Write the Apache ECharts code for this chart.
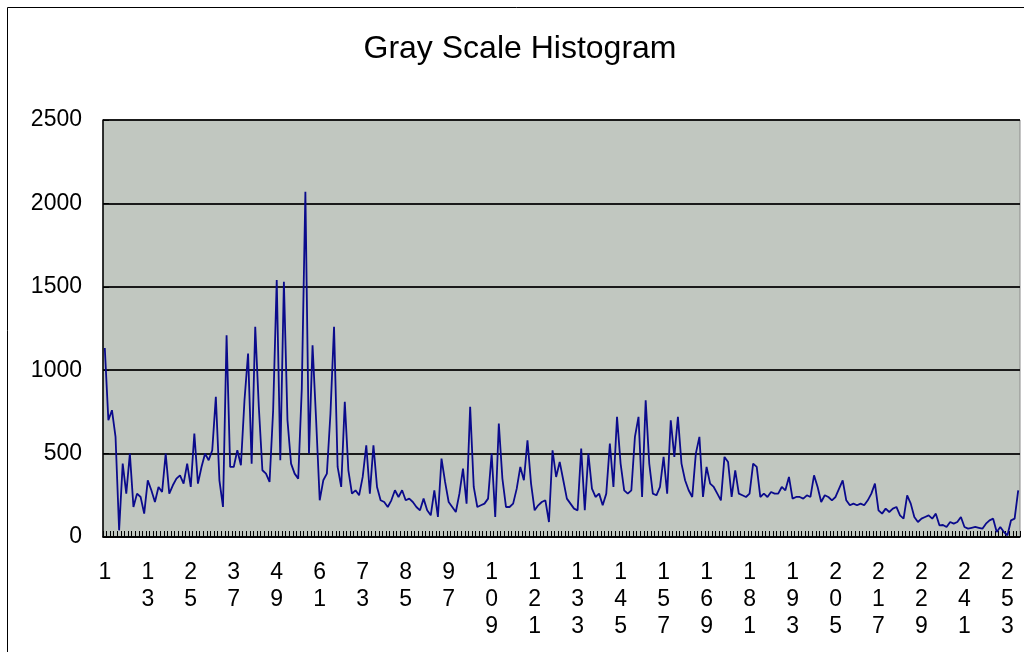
<!DOCTYPE html>
<html>
<head>
<meta charset="utf-8">
<title>Gray Scale Histogram</title>
<script src="https://cdn.jsdelivr.net/npm/echarts@6/dist/echarts.min.js"></script>
<style>
  html, body { margin: 0; padding: 0; background: #fff; }
  #chart { width: 1024px; height: 652px; }
</style>
</head>
<body>
<div id="chart"></div>
<script>
// == Data ====================================================================

// pixel counts per gray level (levels 1..256)
const counts = [
  1133, 700, 760, 600, 40, 440, 260, 500, 180, 260, 240, 140, 340, 280, 210, 300,
  270, 500, 260, 310, 350, 370, 320, 440, 300, 620, 320, 420, 500, 460, 520, 840,
  340, 180, 1210, 420, 420, 520, 430, 820, 1100, 440, 1260, 780, 400, 380, 330, 760,
  1540, 460, 1530, 700, 440, 380, 350, 890, 2070, 500, 1150, 700, 220, 340, 380, 740,
  1260, 420, 300, 810, 400, 260, 280, 250, 360, 550, 260, 550, 300, 220, 210, 180,
  220, 280, 240, 280, 220, 230, 210, 180, 160, 230, 160, 130, 280, 120, 470, 330,
  210, 180, 150, 260, 410, 200, 780, 300, 180, 190, 200, 230, 500, 120, 680, 350,
  180, 180, 200, 290, 420, 340, 580, 320, 160, 190, 210, 220, 90, 520, 360, 450,
  340, 230, 200, 170, 160, 530, 160, 500, 290, 240, 260, 190, 260, 560, 300, 720,
  440, 280, 260, 280, 600, 720, 240, 820, 440, 260, 250, 300, 480, 260, 700, 480,
  720, 440, 340, 280, 240, 500, 600, 240, 420, 320, 300, 260, 220, 480, 450, 240,
  400, 260, 250, 240, 260, 440, 420, 240, 260, 240, 270, 260, 260, 300, 280, 360,
  230, 240, 240, 230, 250, 240, 370, 300, 210, 250, 240, 220, 240, 290, 340, 220,
  190, 200, 190, 200, 190, 220, 260, 320, 160, 140, 170, 150, 170, 180, 130, 110,
  250, 200, 120, 90, 110, 120, 130, 110, 140, 70, 72, 60, 90, 80, 90, 120,
  60, 50, 55, 60, 55, 50, 80, 100, 110, 30, 60, 30, 10, 100, 110, 280
]

// gray levels 1..256 as category names
const levels = counts.map((_, i) => String(i + 1))

const yMin = 0
const yMax = 2500
const yStep = 500
const labelEvery = 12

const font = 'Liberation Sans'

// == Chart ===================================================================

const myChart = echarts.init(document.getElementById('chart'))

const option = {
  animation: false,
  backgroundColor: '#fff',
  graphic: [
    {
      type: 'rect',
      shape: { x: 7.5, y: 7.5, width: 1100, height: 800 },
      style: { fill: 'none', stroke: '#000', lineWidth: 1 },
      silent: true
    },
    {
      type: 'text',
      x: 520,
      y: 49,
      style: {
        text: 'Gray Scale Histogram',
        fontFamily: font,
        fontSize: 32,
        fill: '#000',
        textAlign: 'center',
        textVerticalAlign: 'middle'
      },
      silent: true
    }
  ],
  grid: {
    left: 103,
    right: 4,
    top: 120,
    bottom: 115,
    outerBoundsMode: 'none',
    show: true,
    backgroundColor: '#c1c7c0',
    borderColor: '#8a8a8a',
    borderWidth: 1
  },
  xAxis: {
    type: 'category',
    data: levels,
    boundaryGap: true,
    axisLine: { show: true, lineStyle: { color: '#000', width: 1.5 } },
    axisTick: {
      show: true,
      inside: true,
      length: 6,
      interval: 0,
      lineStyle: { color: '#000', width: 1 }
    },
    axisLabel: {
      interval: labelEvery - 1,
      margin: 22,
      color: '#000',
      fontFamily: font,
      fontSize: 23,
      lineHeight: 27,
      formatter: (v) => v.split('').join('\n')
    },
    splitLine: { show: false }
  },
  yAxis: {
    type: 'value',
    min: yMin,
    max: yMax,
    interval: yStep,
    axisLine: { show: true, lineStyle: { color: '#000', width: 1.5 } },
    axisTick: { show: true, inside: true, length: 6, lineStyle: { color: '#000' } },
    axisLabel: {
      margin: 21,
      color: '#000',
      fontFamily: font,
      fontSize: 23,
      formatter: (v) => String(v)
    },
    splitLine: { show: true, lineStyle: { color: '#1a1a1a', width: 2 } }
  },
  series: [
    {
      type: 'line',
      data: counts,
      symbol: 'none',
      lineStyle: { color: '#0a0a8c', width: 1.8 },
      itemStyle: { color: '#0a0a8c' }
    }
  ]
}

myChart.setOption(option)
</script>
</body>
</html>
